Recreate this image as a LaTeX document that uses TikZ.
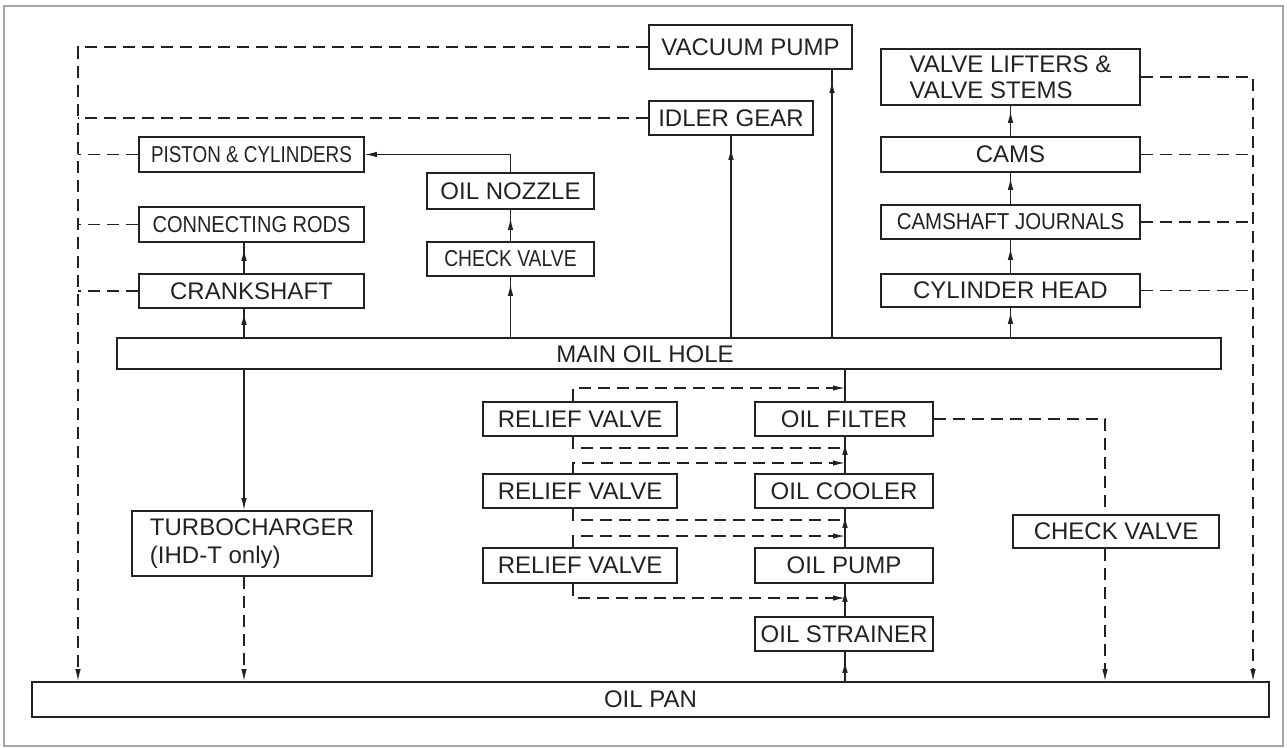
\documentclass[tikz,border=0pt]{standalone}
\usepackage{fontspec}
\setmainfont{Liberation Sans}
\usetikzlibrary{arrows.meta,decorations.markings}
\definecolor{ink}{HTML}{222222}
\tikzset{
  box/.style={draw=ink, line width=1.6pt, inner sep=0pt, text=ink, font=\fontsize{24}{26}\selectfont},
  flow/.style={draw=ink, line width=1.3pt},
  dline/.style={draw=ink, line width=1.3pt, dash pattern=on 12pt off 7pt},
  arr/.style={-{Latex[length=12pt,width=5.5pt]}},
  gaparrow/.style={postaction={decorate},decoration={markings,mark=at position -#1 with {\arrow{Latex[length=12pt,width=5.5pt]}}}},
}
\newcommand\bx[6]{\node[box,minimum width={(#4-#2)*1pt},minimum height={(#5-#3)*1pt}] (#1) at ({(#2+#4)/2},{(#3+#5)/2}) {#6};}
\newcommand\narrow[2]{\scalebox{#1}[1]{\fontsize{23}{26}\selectfont #2}}
\begin{document}
\begin{tikzpicture}[x=1pt,y=-1pt]
\useasboundingbox (0,0) rectangle (1287,747);
\draw[gray!70, line width=2pt] (4,6) rectangle (1283,746);

% boxes
\bx{vac}{649}{25}{852}{69}{VACUUM PUMP}
\node[box,minimum width=259pt,minimum height=56pt,align=left] (lifters) at (1010.5,77) {VALVE LIFTERS \&\\VALVE STEMS};
\bx{idler}{649}{101}{813}{135}{IDLER GEAR}
\bx{cams}{881}{137}{1140}{172}{CAMS}
\bx{cj}{881}{205}{1140}{239}{\narrow{0.89}{CAMSHAFT JOURNALS}}
\bx{ch}{881}{274}{1140}{307}{CYLINDER HEAD}
\bx{pis}{139}{137}{364}{172}{\narrow{0.82}{PISTON \& CYLINDERS}}
\bx{noz}{427}{173}{594}{209}{OIL NOZZLE}
\bx{rods}{139}{207}{364}{242}{\narrow{0.87}{CONNECTING RODS}}
\bx{cv1}{427}{242}{594}{276}{\narrow{0.84}{CHECK VALVE}}
\bx{crank}{139}{274}{364}{308}{CRANKSHAFT}
\bx{main}{117}{338}{1221}{369}{}
\node[text=ink,font=\fontsize{24}{26}\selectfont] (mainlbl) at (645,354) {MAIN OIL HOLE};
\bx{rv1}{483}{402}{677}{436}{RELIEF VALVE}
\bx{filt}{755}{402}{933}{436}{OIL FILTER}
\bx{rv2}{483}{474}{677}{508}{RELIEF VALVE}
\bx{cool}{755}{474}{933}{508}{OIL COOLER}
\node[box,minimum width=240pt,minimum height=65pt,align=left,font=\fontsize{24}{28}\selectfont] (turbo) at (252,543.5) {TURBOCHARGER\\(IHD-T only)};
\bx{cv2}{1013}{515}{1219}{548}{CHECK VALVE}
\bx{rv3}{483}{548}{677}{583}{RELIEF VALVE}
\bx{pump}{755}{548}{933}{583}{OIL PUMP}
\bx{str}{755}{617}{933}{651}{OIL STRAINER}
\bx{pan}{32}{682}{1269}{717}{OIL PAN}

% reference x positions
\coordinate (L) at (78,0);
\coordinate (R) at (1253,0);
\coordinate (T) at (244,0);
\coordinate (C) at (845,0);
\coordinate (V) at (832,0);
\coordinate (K) at (1105,0);
\coordinate (X) at (573,0);

% left return lines
\draw[dline,arr] (vac.west) -| (L |- pan.north);
\draw[dline] (idler.west) -- (idler.west -| L);
\draw[dline] (pis.west) -- (pis.west -| L);
\draw[dline] (rods.west) -- (rods.west -| L);
\draw[dline] (crank.west) -- (crank.west -| L);

% right return lines
\draw[dline,arr] (lifters.east) -| (R |- pan.north);
\draw[dline] (cams.east) -- (cams.east -| R);
\draw[dline] (cj.east) -- (cj.east -| R);
\draw[dline] (ch.east) -- (ch.east -| R);

% feeds from main oil hole
\draw[flow,gaparrow=4pt] (T |- main.north) -- (T |- crank.south);
\draw[flow,gaparrow=6pt] (T |- crank.north) -- (T |- rods.south);
\draw[flow,gaparrow=7pt] (cv1.south |- main.north) -- (cv1.south);
\draw[flow,gaparrow=8pt] (cv1.north) -- (noz.south);
\draw[flow,arr] (noz.north) |- (pis.east);
\draw[flow,gaparrow=12pt] (idler.south |- main.north) -- (idler.south);
\draw[flow,gaparrow=11pt] (V |- main.north) -- (V |- vac.south);
\draw[flow,gaparrow=4pt] (ch.south |- main.north) -- (ch.south);
\draw[flow,gaparrow=8pt] (ch.north) -- (cj.south);
\draw[flow,gaparrow=5pt] (cj.north) -- (cams.south);
\draw[flow,gaparrow=5pt] (cams.north) -- (lifters.south);

% turbocharger
\draw[flow,arr] (T |- main.south) -- (T |- turbo.north);
\draw[dline,arr] (T |- turbo.south) -- (T |- pan.north);

% pump chain
\draw[flow] (C |- filt.north) -- (C |- main.south);
\draw[flow,gaparrow=6pt] (C |- cool.north) -- (C |- filt.south);
\draw[flow,gaparrow=7pt] (C |- pump.north) -- (C |- cool.south);
\draw[flow,gaparrow=6pt] (C |- str.north) -- (C |- pump.south);
\draw[flow,gaparrow=9pt] (C |- pan.north) -- (C |- str.south);

% relief valve bypasses
\draw[dline,arr] (X |- rv1.north) |- (C |- 0,388);
\draw[dline] (X |- rv1.south) |- (C |- 0,448);
\draw[dline,arr] (X |- rv2.north) |- (C |- 0,463);
\draw[dline] (X |- rv2.south) |- (C |- 0,520);
\draw[dline,arr] (X |- rv3.north) |- (C |- 0,536);
\draw[dline,arr] (X |- rv3.south) |- (C |- 0,598);

% check valve return
\draw[dline] (filt.east) -| (K |- cv2.north);
\draw[dline,arr] (K |- cv2.south) -- (K |- pan.north);
\end{tikzpicture}
\end{document}
